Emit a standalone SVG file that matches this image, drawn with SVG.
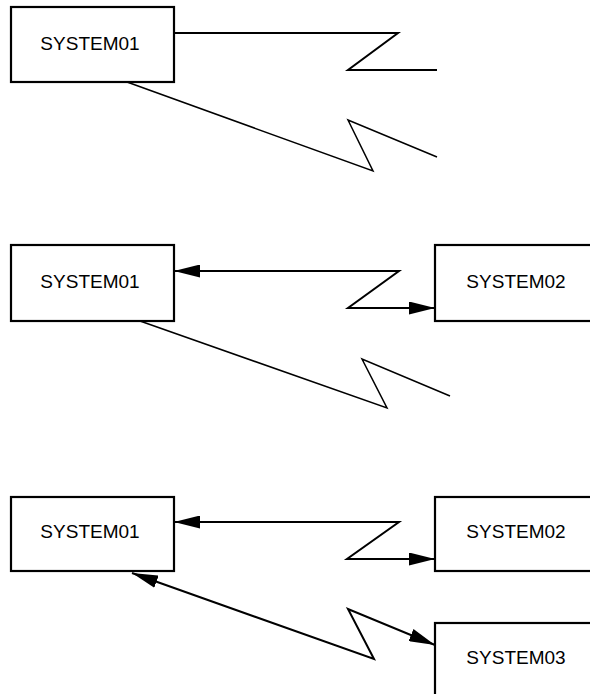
<svg xmlns="http://www.w3.org/2000/svg" width="590" height="694" viewBox="0 0 590 694">
<style>
.box{fill:#fff;stroke:#000;stroke-width:2.2}
.lbl{font-family:"Liberation Sans",Arial,sans-serif;font-size:19px;fill:#000;text-anchor:middle}
.ln{fill:none;stroke:#000;stroke-width:2;stroke-linejoin:miter}
.thin{fill:none;stroke:#000;stroke-width:1.5}
</style>
<defs>
<marker id="arr" markerUnits="userSpaceOnUse" markerWidth="26" markerHeight="13" refX="26" refY="6.5" orient="auto-start-reverse">
<path d="M0,0 L26,6.5 L0,13 Z" fill="#000"/>
</marker>
</defs>
<rect width="590" height="694" fill="#fff"/>
<g id="connectors">
<polyline class="ln" points="174,33 398,33 348,70 437,70"/>
<polyline class="thin" points="127,82 373,171 348,120 437,157"/>
<polyline class="ln" points="174,271 399,271 348,308 435,308" marker-start="url(#arr)" marker-end="url(#arr)"/>
<polyline class="thin" points="140,321 387,408 362,359 450,396"/>
<polyline class="ln" points="174,522 399,522 347,559 435,559" marker-start="url(#arr)" marker-end="url(#arr)"/>
<polyline class="ln" points="132,573 374,659 348,609 435,645" marker-start="url(#arr)" marker-end="url(#arr)"/>
</g>
<g id="p1-system01">
<rect class="box" x="11" y="7" width="163" height="75"/>
<text class="lbl" x="90" y="50">SYSTEM01</text>
</g>
<g id="p2-system01">
<rect class="box" x="11" y="245" width="163" height="76"/>
<text class="lbl" x="90" y="288">SYSTEM01</text>
</g>
<g id="p2-system02">
<rect class="box" x="435" y="245" width="163" height="76"/>
<text class="lbl" x="516" y="288">SYSTEM02</text>
</g>
<g id="p3-system01">
<rect class="box" x="11" y="497" width="163" height="74"/>
<text class="lbl" x="90" y="538">SYSTEM01</text>
</g>
<g id="p3-system02">
<rect class="box" x="435" y="497" width="163" height="74"/>
<text class="lbl" x="516" y="538">SYSTEM02</text>
</g>
<g id="p3-system03">
<rect class="box" x="435" y="623" width="163" height="76"/>
<text class="lbl" x="516" y="664">SYSTEM03</text>
</g>
</svg>
